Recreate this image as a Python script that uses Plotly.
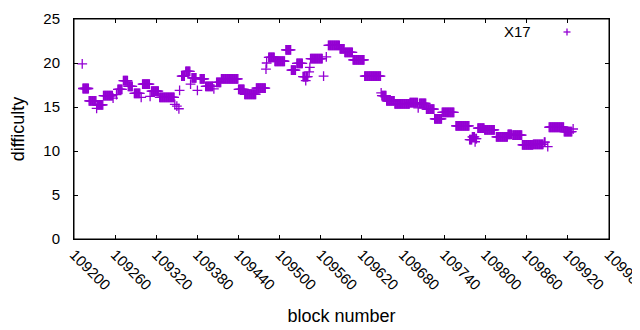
import plotly.graph_objects as go

# Runs of constant difficulty: first block, last block, difficulty
run_start = [109212, 109213, 109222, 109233, 109234, 109243, 109257, 109262, 109264, 109272,
             109279, 109288, 109298, 109300, 109311, 109313, 109325, 109347, 109350, 109353,
             109354, 109357, 109363, 109370, 109372, 109380, 109384, 109392, 109404, 109408,
             109415, 109440, 109449, 109466, 109480, 109481, 109484, 109493, 109509, 109517,
             109525, 109534, 109538, 109539, 109543, 109544, 109545, 109564, 109568, 109571,
             109588, 109595, 109607, 109624, 109648, 109649, 109656, 109668, 109690, 109702,
             109704, 109714, 109726, 109737, 109757, 109777, 109781, 109785, 109786, 109789,
             109799, 109816, 109833, 109840, 109854, 109870, 109886, 109891, 109893, 109915,
             109928]
run_end = [109212, 109221, 109232, 109233, 109242, 109256, 109257, 109262, 109270, 109278,
           109285, 109296, 109298, 109310, 109311, 109323, 109346, 109347, 109350, 109353,
           109354, 109361, 109369, 109370, 109378, 109380, 109390, 109402, 109404, 109414,
           109439, 109448, 109465, 109479, 109480, 109481, 109492, 109507, 109516, 109523,
           109533, 109537, 109538, 109541, 109543, 109544, 109562, 109564, 109568, 109587,
           109594, 109606, 109623, 109647, 109648, 109655, 109667, 109689, 109701, 109702,
           109713, 109725, 109736, 109754, 109776, 109780, 109784, 109785, 109787, 109798,
           109813, 109832, 109838, 109853, 109869, 109884, 109887, 109891, 109914, 109926,
           109928]
run_value = [19.9, 17.1, 15.7, 14.85, 15.25, 16.3, 16.0, 16.4, 17.0, 18.0,
             17.35, 16.55, 16.1, 17.6, 16.2, 16.8, 16.1, 15.3, 15.1, 14.8,
             16.9, 18.5, 19.05, 17.6, 18.3, 16.9, 18.2, 17.35, 17.05, 17.8,
             18.2, 17.0, 16.45, 17.15, 19.3, 20.0, 20.65, 20.2, 21.5, 19.2,
             19.95, 18.45, 18.0, 18.45, 19.0, 19.5, 20.5, 18.5, 20.7, 22.0,
             21.6, 21.2, 20.35, 18.5, 16.6, 16.3, 15.7, 15.35, 15.5, 14.9,
             15.4, 14.75, 13.65, 14.4, 12.85, 11.3, 11.6, 11.05, 11.4, 12.6,
             12.4, 11.6, 11.9, 11.8, 10.7, 10.75, 11.0, 10.5, 12.7, 12.2,
             12.5]

x_ticks = list(range(109200, 109981, 60))
y_ticks = [0, 5, 10, 15, 20, 25]
series_name = "X17"

blocks, diffs = [], []
for s, e, v in zip(run_start, run_end, run_value):
    for b in range(s, e + 1):
        blocks.append(b)
        diffs.append(v)

PURPLE = "#9400D3"
FONT = "Liberation Sans"

# page body has an 8px default margin; size the figure to fit the 640x330 window
OFF = 8
W, H = 640 - OFF, 330 - OFF
L, T = 74 - OFF, 19 - OFF
R, B = W - (609 - OFF), H - (239 - OFF)
pw, ph = W - L - R, H - T - B

fig = go.Figure()
fig.add_trace(go.Scatter(
    x=blocks, y=diffs, mode="markers", name=series_name,
    marker=dict(symbol="cross-thin", size=7, color=PURPLE,
                line=dict(color=PURPLE, width=1.3)),
    showlegend=False,
))

# legend: text then sample, gnuplot style (top right)
lx, ly = (567 - 74) / pw, (239 - 32) / ph
dx, dy = 3.5 / pw, 3.5 / ph
shapes = [
    dict(type="rect", xref="paper", yref="paper", x0=0, x1=1, y0=0, y1=1,
         line=dict(color="black", width=1), fillcolor="rgba(0,0,0,0)", layer="above"),
    dict(type="line", xref="paper", yref="paper", x0=lx - dx, x1=lx + dx, y0=ly, y1=ly,
         line=dict(color=PURPLE, width=1.3)),
    dict(type="line", xref="paper", yref="paper", x0=lx, x1=lx, y0=ly - dy, y1=ly + dy,
         line=dict(color=PURPLE, width=1.3)),
]

fig.update_layout(
    width=W, height=H,
    margin=dict(l=L, r=R, t=T, b=B, autoexpand=False),
    paper_bgcolor="white", plot_bgcolor="white",
    font=dict(family=FONT, size=15, color="black"),
    showlegend=False,
    shapes=shapes,
    annotations=[dict(text=series_name, x=(533 - 74) / pw, y=(239 - 31) / ph,
                      xref="paper", yref="paper",
                      xanchor="right", yanchor="middle", showarrow=False,
                      font=dict(family=FONT, size=15, color="black"))],
)
fig.update_xaxes(
    range=[109200, 109980.3], tickvals=x_ticks, ticktext=[str(t) for t in x_ticks],
    tickangle=45, ticks="inside", ticklen=4, tickcolor="black",
    showline=True, linecolor="black", linewidth=1, mirror="ticks",
    showgrid=False, zeroline=False, automargin=False, ticklabeloverflow="allow",
    title=dict(text="block number", standoff=17),
)
fig.update_yaxes(
    range=[0, 25], tickvals=y_ticks, ticks="inside", ticklen=4, tickcolor="black",
    showline=True, linecolor="black", linewidth=1, mirror="ticks",
    showgrid=False, zeroline=False, ticklabelstandoff=10, automargin=False,
    title=dict(text="difficulty", standoff=16),
)

fig.write_html("out.html")
